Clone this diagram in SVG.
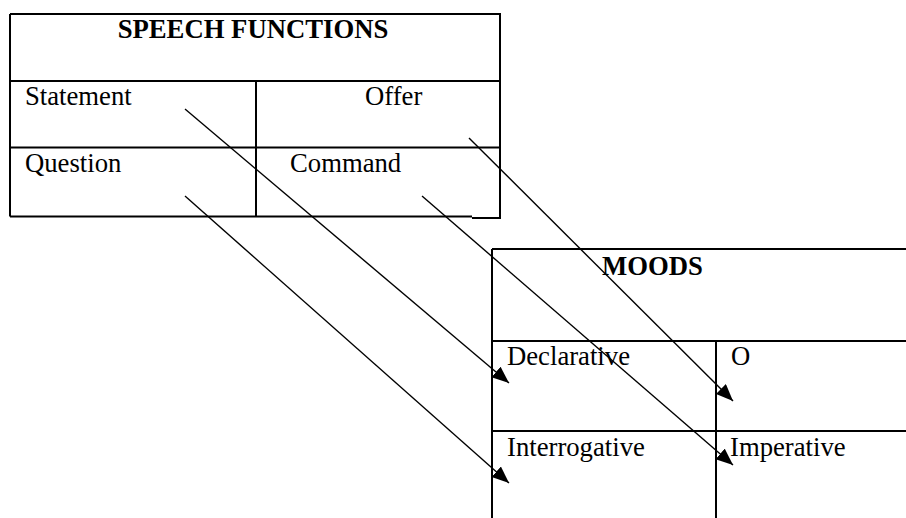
<svg xmlns="http://www.w3.org/2000/svg" width="906" height="518" viewBox="0 0 906 518">
<style>
.t{font-family:"Liberation Serif","Times New Roman",serif;font-size:26.7px;fill:#000}
.b{font-weight:bold}
.g{stroke:#000;stroke-width:2;fill:none}
.c{stroke:#000;stroke-width:1.4;fill:none}
</style>
<defs>
<marker id="ah" markerUnits="userSpaceOnUse" markerWidth="18" markerHeight="15" refX="17" refY="7" orient="auto">
<path d="M0,0 L17,7 L0,14 z" fill="#000"/>
</marker>
</defs>
<rect width="906" height="518" fill="#fff"/>
<g id="speech-functions">
<path class="g" d="M10,14 H501 M10,14 V216.5 M500,14 V218 M10,81 H501 M10,147.5 H501 M256,81 V216.5 M10,216.5 H472 M472,218 H501"/>
<text class="t b" x="253" y="38" text-anchor="middle">SPEECH FUNCTIONS</text>
</g>
<g id="statement"><text class="t" x="25" y="105">Statement</text></g>
<g id="offer"><text class="t" x="365" y="105">Offer</text></g>
<g id="question"><text class="t" x="25" y="172">Question</text></g>
<g id="command"><text class="t" x="290" y="172">Command</text></g>
<g id="moods">
<path class="g" d="M492,249 H906 M492,249 V518 M492,341 H906 M492,431 H906 M716,341 V518"/>
<text class="t b" x="602" y="275">MOODS</text>
</g>
<g id="declarative"><text class="t" x="507" y="365">Declarative</text></g>
<g id="o"><text class="t" x="731" y="365">O</text></g>
<g id="interrogative"><text class="t" x="507" y="456">Interrogative</text></g>
<g id="imperative"><text class="t" x="730" y="456">Imperative</text></g>
<g id="connectors">
<line class="c" x1="185" y1="109" x2="509" y2="383" marker-end="url(#ah)"/>
<line class="c" x1="469" y1="138" x2="733" y2="401" marker-end="url(#ah)"/>
<line class="c" x1="422" y1="196" x2="733" y2="465" marker-end="url(#ah)"/>
<line class="c" x1="185" y1="196" x2="509" y2="483" marker-end="url(#ah)"/>
</g>
</svg>
